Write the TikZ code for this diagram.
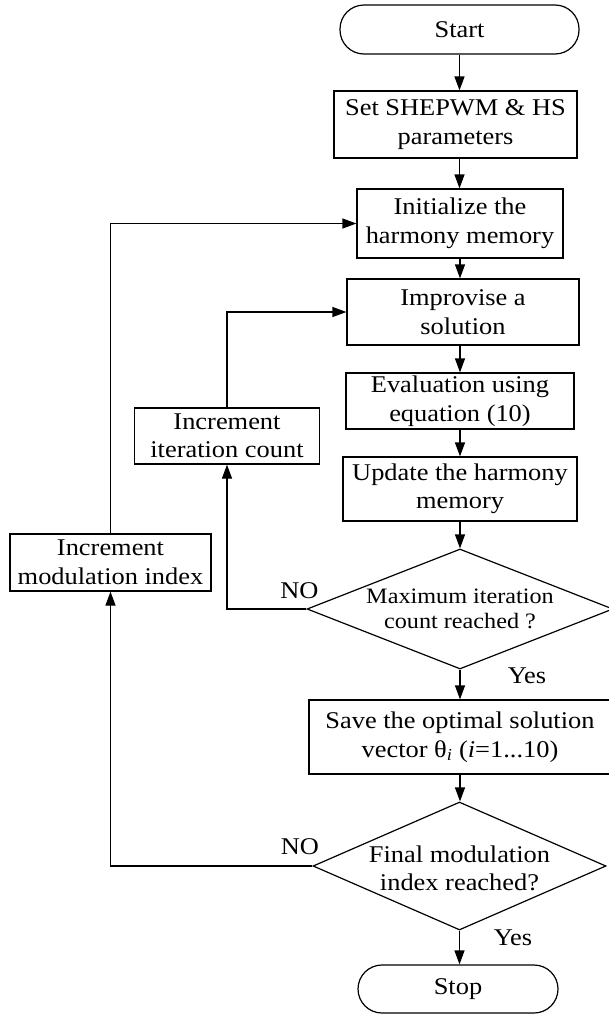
\documentclass[tikz,border=0pt]{standalone}
\usepackage{fontspec}
\setmainfont{Liberation Serif}[FakeStretch=1.1]
\usetikzlibrary{arrows.meta,shapes.geometric}
\begin{document}
\begin{tikzpicture}[x=1pt,y=-1pt,
  font=\fontsize{24}{28.5}\selectfont,
  box/.style={draw, line width=1.2pt, align=center, inner sep=0pt},
  term/.style={box, rounded corners=24pt},
  dec/.style={draw, line width=1.2pt, diamond, inner sep=0pt},
  dectext/.style={align=center, inner sep=0pt},
  arr/.style={line width=1.2pt, -{Triangle[length=14pt,width=10pt]}},
  lab/.style={inner sep=0pt}
]
\useasboundingbox (0,0) rectangle (608,1015);
% main column
\node[term, minimum width=239pt, minimum height=49pt] (start) at (459.5,29.5) {Start};
\node[box, minimum width=243pt, minimum height=67pt] (set) at (455.5,124.5) {Set SHEPWM \& HS\\parameters};
\node[box, minimum width=206pt, minimum height=69pt] (init) at (460,223.5) {Initialize the\\harmony memory};
\node[box, minimum width=232pt, minimum height=66pt] (impr) at (463,312) {Improvise a\\solution};
\node[box, minimum width=228pt, minimum height=56pt] (eval) at (460,401) {Evaluation using\\equation (10)};
\node[box, minimum width=234pt, minimum height=64pt] (upd) at (460,489) {Update the harmony\\memory};
\node[dec, minimum width=306pt, minimum height=120pt] (d1) at (460,609) {};
\node[dectext, font=\fontsize{22}{25}\selectfont] (d1t) at (460,609) {Maximum iteration\\count reached ?};
\node[box, minimum width=302pt, minimum height=74pt] (save) at (460,737) {Save the optimal solution\\vector θ\textsubscript{\textit{i}} (\textit{i}=1...10)};
\node[dec, minimum width=293pt, minimum height=128pt] (d2) at (459.5,866) {};
\node[dectext, font=\fontsize{24}{28}\selectfont] (d2t) at (459.5,868) {Final modulation\\index reached?};
\node[term, minimum width=200pt, minimum height=48pt] (stop) at (458,989) {Stop};
% side boxes
\node[box, minimum width=185pt, minimum height=56pt] (iter) at (227,436) {Increment\\iteration count};
\node[box, minimum width=201pt, minimum height=57pt] (mod) at (110.5,562.5) {Increment\\modulation index};
% labels
\node[lab] (no1) at (299.5,590.5) {NO};
\node[lab] (no2) at (300,847) {NO};
\node[lab] (yes1) at (527,675.5) {Yes};
\node[lab] (yes2) at (513,937.5) {Yes};
% connectors
\draw[arr] (start.south) -- (start.south |- set.north);
\draw[arr] (start.south |- set.south) -- (start.south |- init.north);
\draw[arr] (init.south) -- (init.south |- impr.north);
\draw[arr] (init.south |- impr.south) -- (init.south |- eval.north);
\draw[arr] (eval.south) -- (eval.south |- upd.north);
\draw[arr] (upd.south) -- (d1.north);
\draw[arr] (d1.south) -- (save.north);
\draw[arr] (save.south) -- (save.south |- d2.north);
\draw[arr] (d2.south) -- (d2.south |- stop.north);
\draw[arr] (d1.west) -| (iter.south);
\draw[arr] (iter.north) |- (impr.west);
\draw[arr] (d2.west) -| (mod.south);
\draw[arr] (mod.north) |- (init.west);
\end{tikzpicture}
\end{document}
